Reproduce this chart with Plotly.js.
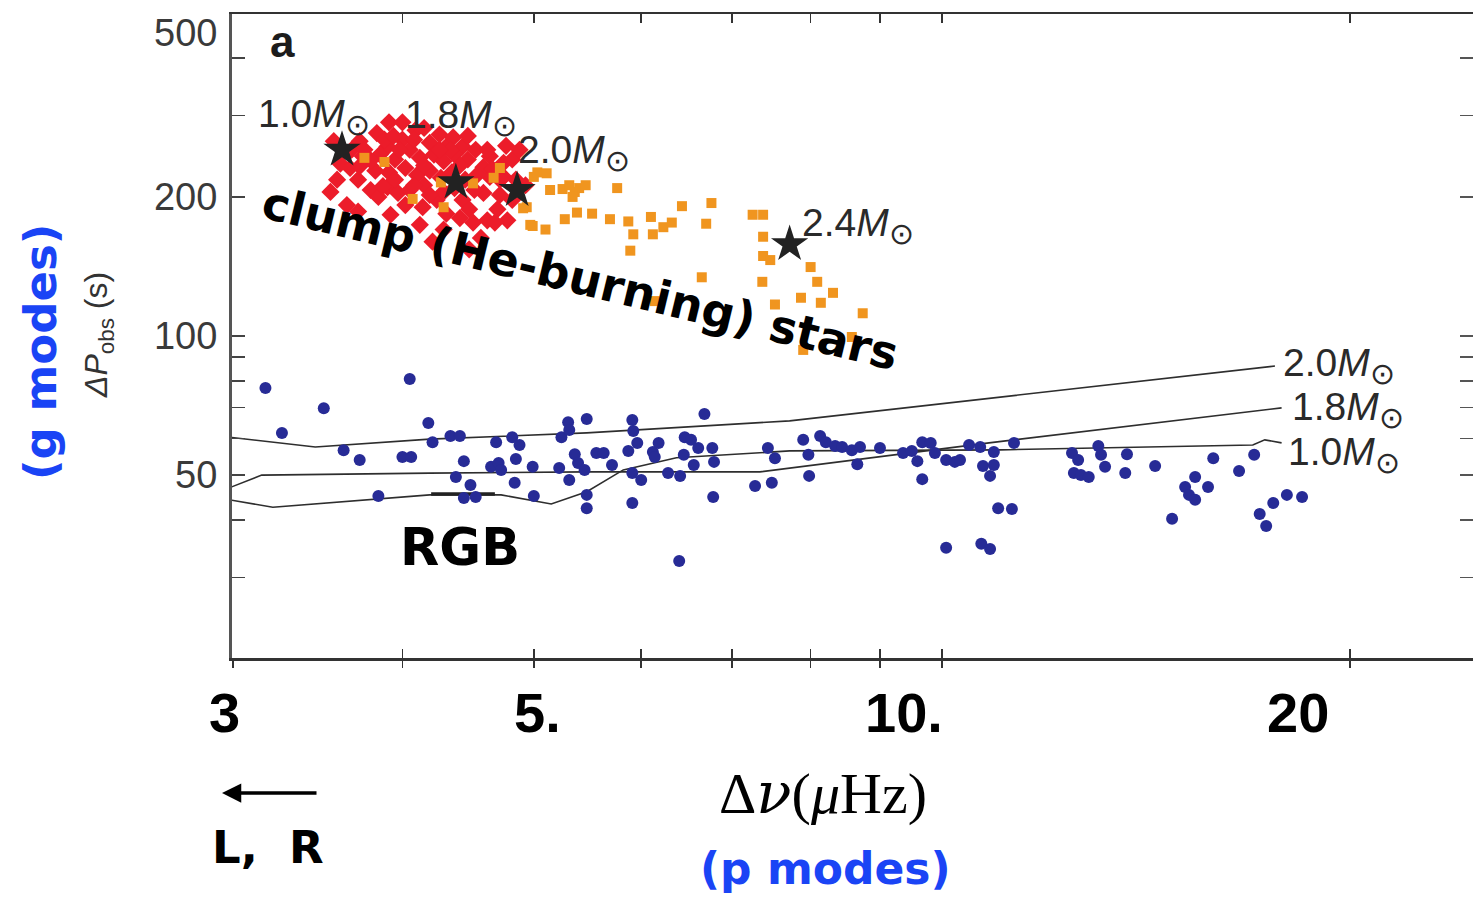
<!DOCTYPE html>
<html>
<head>
<meta charset="utf-8">
<script src="https://cdn.plot.ly/plotly-3.0.1.min.js"></script>
<style>html,body{margin:0;padding:0;background:#fff;}#chart{width:1473px;height:897px;}</style>
</head>
<body>
<div id="chart"></div>
<script>
// ---- data ----
const clumpLowX = [3.56,3.60,3.66,3.58,3.54,3.71,3.67,3.72,3.83,3.91,4.00,4.09,3.90,3.74,4.00,4.19,4.31,4.43,4.53,4.64,4.75,4.75,4.64,4.59,3.79,3.84,3.90,3.97,4.05,4.14,4.24,4.31,4.43,4.48,4.59,4.70,4.78,4.62,4.51,4.21,3.85,3.95,4.05,4.12,4.22,4.29,4.37,4.47,3.82,3.91,4.02,4.10,4.19,4.27,4.35,4.45,4.54,4.66,4.82,4.85,4.88,3.95,4.15,4.37,4.08,4.26,4.36,4.15,3.75,3.88,4.29,4.52,4.72,3.64,3.71,3.92,4.02,4.12,4.29,4.41,4.57,4.68,4.48,4.82,4.93,3.79,3.98,4.15,4.34,4.41,4.62,4.72,4.19,3.87,3.72,4.47,3.94,4.77,4.26,4.08];
const clumpLowY = [264,236,231,218,205,218,253,264,275,290,290,279,257,245,266,262,257,257,253,245,237,221,221,232,207,200,210,204,207,190,197,184,197,188,204,188,178,178,176,160,247,241,253,243,247,239,247,241,228,226,231,223,228,220,226,218,223,230,241,218,253,218,212,209,266,273,269,282,253,266,205,207,202,192,186,183,192,174,170,180,163,176,154,197,212,240,253,234,253,234,253,218,202,211,233,271,271,258,253,212];

const clumpHighX = [3.75,3.88,4.07,4.29,4.27,4.51,4.67,4.72,4.94,4.97,5.00,5.03,5.11,5.14,5.10,4.99,4.91,5.25,5.31,5.36,5.40,5.46,5.34,5.76,5.27,5.38,5.52,5.69,5.87,5.92,6.10,6.12,6.23,6.32,6.43,6.70,6.76,5.89,6.65,7.25,7.38,7.38,7.38,7.47,7.37,8.00,8.09,8.31,8.14,7.87,7.53,8.74,8.58,7.90,6.14];
const clumpHighY = [243,238,198,190,215,214,220,231,190,174,221,226,225,207,170,173,189,208,212,205,209,212,200,209,179,185,184,179,177,166,181,166,172,176,191,175,194,153,134,183,183,164,149,146,131,141,131,124,118,121,117,112,99.5,93.3,119];

const rgbX = [3.17,3.26,3.50,4.05,3.62,3.72,3.84,4.00,4.06,4.18,4.21,4.34,4.41,4.44,4.38,4.49,4.44,4.53,4.69,4.82,4.88,4.65,4.71,4.73,4.85,4.99,4.84,5.00,5.24,5.30,5.31,5.22,5.31,5.36,5.39,5.45,5.47,5.56,5.63,5.71,5.47,5.47,5.91,5.92,5.87,5.96,5.91,6.00,5.91,6.12,6.18,6.14,6.28,6.41,6.46,6.53,6.45,6.56,6.61,6.77,6.79,6.68,6.78,6.40,7.44,7.53,7.28,7.49,7.90,7.97,7.98,8.13,8.21,8.34,8.44,8.58,8.70,8.66,9.00,9.36,9.50,9.59,9.67,9.81,9.67,9.88,10.07,10.22,10.31,10.47,10.67,10.92,10.72,10.92,10.85,11.30,11.00,11.26,10.07,10.69,10.85,12.47,12.60,12.51,12.66,12.83,13.04,13.10,13.19,13.69,13.65,14.36,14.78,15.11,15.37,15.21,15.37,15.71,15.85,16.56,16.99,17.15,17.55,17.34,17.96,18.43];
const rgbY = [77.2,61.7,69.8,80.7,56.6,53.9,45.05,54.7,54.7,64.8,58.9,60.75,60.75,53.6,49.5,47.6,44.6,44.8,58.9,60.4,58.1,52.1,53.1,51.3,54.2,52.1,48.1,45.05,60.4,65.1,62.6,51.8,48.8,55.5,53.1,51.3,66.1,55.8,55.8,52.6,45.3,42.4,65.8,62.3,56.4,58.7,50.5,48.8,43.5,56.1,58.7,54.7,50.5,49.77,60.4,59.6,55.3,52.6,57.2,57.2,53.4,67.8,44.8,32.6,57.2,54.4,47.36,48.1,59.6,55.3,49.8,60.75,58.9,57.8,57.5,56.6,57.5,52.8,57.2,55.8,56.4,53.6,58.9,58.7,49.0,55.8,53.9,53.4,53.9,58.1,57.5,56.1,52.3,52.6,49.8,58.7,42.4,42.2,34.8,35.5,34.6,55.8,53.9,50.5,50.0,49.5,57.8,55.3,52.1,55.5,50.5,52.3,40.2,47.1,49.5,45.3,44.2,47.1,54.4,51.0,55.3,41.2,43.5,38.8,45.3,44.8];

const starX = [3.61,4.38,4.86,7.72];
const starY = [253,215,207,158];

const track20X = [2.98,3.45,4.19,5.47,7.72,17.6];
const track20Y = [60.4,57.5,59.8,61.7,65.5,86.1];
const track18X = [2.98,3.15,4.19,5.47,7.34,10.83,17.8];
const track18Y = [46.9,50.0,50.5,50.8,50.8,58.7,69.9];
const track10X = [2.98,3.21,4.19,4.73,5.15,5.47,5.82,6.37,7.72,11.04,16.95,17.3,17.8];
const track10Y = [44.2,42.6,45.3,45.3,43.3,46.0,51.3,54.5,56.4,56.7,58.1,59.6,58.7];
const rgbBumpX = [4.20,4.68];
const rgbBumpY = [45.5,45.5];

const xTickVals = [3,4,5,6,7,8,9,10,20];
const xTickLabels = ['3','5.','10.','20'];
const yTickVals = [20,30,40,50,60,70,80,90,100,200,300,400,500];
const yTickText = ['','','','50','','','','','100','200','','',''];

// ---- layout helpers (pixel -> paper) ----
const L = 232, R = 1473, T = 14, B = 658;
const px = x => (x - L) / (R - L);
const py = y => (B - y) / (B - T);
const lineStyle = {color:'#2e2e2e', width:1.6};

const traces = [
  {x:track20X, y:track20Y, mode:'lines', line:lineStyle, hoverinfo:'skip'},
  {x:track18X, y:track18Y, mode:'lines', line:lineStyle, hoverinfo:'skip'},
  {x:track10X, y:track10Y, mode:'lines', line:lineStyle, hoverinfo:'skip'},
  {x:rgbBumpX, y:rgbBumpY, mode:'lines', line:{color:'#222', width:3.5}, hoverinfo:'skip'},
  {x:rgbX, y:rgbY, mode:'markers', marker:{symbol:'circle', size:12, color:'#272b96'}},
  {x:clumpLowX, y:clumpLowY, mode:'markers', marker:{symbol:'diamond', size:14, color:'#ec1c2a'}},
  {x:clumpHighX, y:clumpHighY, mode:'markers', marker:{symbol:'square', size:10, color:'#f0951f'}},
  {x:starX, y:starY, mode:'markers', marker:{symbol:'star', size:28, color:'#222222'}},
  {x:[null], y:[null], xaxis:'x2', yaxis:'y', mode:'markers', hoverinfo:'skip'},
  {x:[null], y:[null], xaxis:'x', yaxis:'y2', mode:'markers', hoverinfo:'skip'}
];

const sun = '<sub><span style="font-size:30px">\u2299</span></sub>';
const massFont = {family:'Liberation Sans, Arial, sans-serif', size:39, color:'#2a2a2a'};
function massLabel(mass, x, y){
  return {xref:'paper', yref:'paper', x:px(x), y:py(y), xanchor:'left', yanchor:'middle',
          text: mass + '<i>M</i>' + sun, showarrow:false, font:massFont};
}
function txt(text, x, y, font, extra){
  return Object.assign({xref:'paper', yref:'paper', x:px(x), y:py(y), xanchor:'center', yanchor:'middle',
          text:text, showarrow:false, font:font}, extra || {});
}
const sans = 'DejaVu Sans, Liberation Sans, sans-serif';
const lib = 'Liberation Sans, Arial, sans-serif';
const blue = '#1a44f5';
const tickLabFont = {family:lib, size:56, color:'#000', weight:'bold'};

const annotations = [
  txt('<b>a</b>', 282, 42, {family:lib, size:44, color:'#1c1c1c'}),
  txt('500', 219, 33, {family:lib, size:38, color:'#3a3a3a'}, {xanchor:'right'}),
  massLabel('1.0', 256, 116),
  massLabel('1.8', 403, 117),
  massLabel('2.0', 516, 152),
  massLabel('2.4', 800, 226),
  massLabel('2.0', 1281, 366),
  massLabel('1.8', 1290, 410),
  massLabel('1.0', 1286, 455),
  txt('clump (He-burning) stars', 580, 278, {family:sans, size:46, color:'#000', weight:'bold'}, {textangle:13.6}),
  txt('RGB', 460, 547, {family:sans, size:51, color:'#000', weight:'bold'}),
  txt('<i>\u0394P</i><sub>obs</sub> (s)', 98, 335, {family:lib, size:32, color:'#333'}, {textangle:-90}),
  txt('(g modes)', 40, 352, {family:sans, size:45, color:blue, weight:'bold'}, {textangle:-90}),
  txt(xTickLabels[0], 224, 712, tickLabFont),
  txt(xTickLabels[1], 537, 712, tickLabFont),
  txt(xTickLabels[2], 904, 712, tickLabFont),
  txt(xTickLabels[3], 1298, 712, tickLabFont),
  txt('\u0394<span style="font-family:DejaVu Serif"><i>\u03bd</i></span>(<i>\u03bc</i>Hz)', 823, 793,
      {family:'Liberation Serif, Times New Roman, serif', size:58, color:'#000'}),
  txt('(p modes)', 825, 868, {family:sans, size:44, color:blue, weight:'bold'}),
  txt('L,\u00a0\u00a0R', 268, 847, {family:sans, size:45, color:'#000', weight:'bold'}),
  {xref:'paper', yref:'paper', x:px(222), y:py(793), text:'', showarrow:true, ax:96, ay:0,
   arrowhead:2, arrowsize:1.1, arrowwidth:3.5, arrowcolor:'#000'}
];

const xr = [Math.log10(3) - 1/1356, Math.log10(3) + 1240/1356];
const yr = [2 - 322/462, 2 + 322/462];

const layout = {
  width:1473, height:897,
  margin:{l:L, r:1473-R, t:T, b:897-B, pad:0},
  paper_bgcolor:'#fff', plot_bgcolor:'#fff',
  showlegend:false,
  xaxis:{type:'log', range:xr, showgrid:false, zeroline:false, showline:true, linecolor:'#333', linewidth:2.5,
         mirror:'ticks', ticks:'inside', ticklen:9, tickwidth:1.5, tickcolor:'#333',
         tickmode:'array', tickvals:xTickVals, showticklabels:false},
  xaxis2:{type:'log', overlaying:'x', range:xr, showgrid:false, zeroline:false, showline:false,
         ticks:'outside', ticklen:9, tickwidth:1.5, tickcolor:'#333', tickmode:'array', tickvals:xTickVals,
         showticklabels:false, side:'bottom'},
  yaxis:{type:'log', range:yr, showgrid:false, zeroline:false, showline:true, linecolor:'#555', linewidth:3,
         ticks:'inside', ticklen:13, tickwidth:1.5, tickcolor:'#444', tickmode:'array',
         tickvals:yTickVals, ticktext:yTickText, ticklabelstandoff:4,
         tickfont:{family:lib, size:38, color:'#3a3a3a'}},
  yaxis2:{type:'log', overlaying:'y', side:'right', range:yr, showgrid:false, zeroline:false, showline:false,
         ticks:'inside', ticklen:13, tickwidth:1.5, tickcolor:'#555', tickmode:'array', tickvals:yTickVals,
         showticklabels:false},
  annotations:annotations
};

Plotly.newPlot('chart', traces, layout, {staticPlot:true, displayModeBar:false});
</script>
</body>
</html>
